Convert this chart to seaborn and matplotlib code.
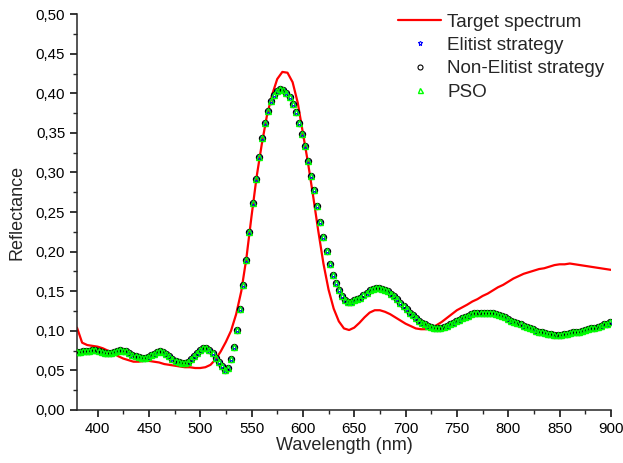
import numpy as np
import pandas as pd
import seaborn as sns
import matplotlib
matplotlib.use("Agg")
import matplotlib.pyplot as plt
from matplotlib.ticker import MultipleLocator, FuncFormatter

# 목표 스펙트럼 (5 nm 간격)
target_wl = list(range(380, 901, 5))
target_refl = [
    0.104, 0.085, 0.082, 0.081, 0.080, 0.078, 0.075, 0.072, 0.068, 0.065,
    0.063, 0.061, 0.061, 0.062, 0.062, 0.061, 0.060, 0.058, 0.057, 0.056,
    0.055, 0.054, 0.054, 0.053, 0.053, 0.054, 0.057, 0.064, 0.074, 0.086,
    0.100, 0.121, 0.150, 0.192, 0.245, 0.295, 0.336, 0.372, 0.398, 0.418,
    0.427, 0.426, 0.414, 0.388, 0.350, 0.312, 0.270, 0.226, 0.185, 0.152,
    0.128, 0.112, 0.103, 0.101, 0.104, 0.110, 0.117, 0.123, 0.126, 0.126,
    0.124, 0.121, 0.117, 0.113, 0.109, 0.106, 0.103, 0.102, 0.102, 0.103,
    0.107, 0.111, 0.116, 0.121, 0.126, 0.1295, 0.133, 0.137, 0.140, 0.144,
    0.147, 0.151, 0.155, 0.158, 0.162, 0.166, 0.169, 0.172, 0.174, 0.176,
    0.178, 0.179, 0.181, 0.183, 0.184, 0.184, 0.185, 0.184, 0.183, 0.182,
    0.181, 0.180, 0.179, 0.178, 0.177,
]

# 최적화 결과 (3 nm 간격)
fit_wl = list(range(380, 900, 3))
fit_refl = [
    0.073, 0.073, 0.074, 0.074, 0.075, 0.0755, 0.0755, 0.075, 0.073, 0.072,
    0.0715, 0.072, 0.073, 0.0745, 0.0755, 0.075, 0.074, 0.072, 0.070, 0.068,
    0.0665, 0.066, 0.066, 0.067, 0.069, 0.071, 0.073, 0.074, 0.0735, 0.071,
    0.068, 0.065, 0.062, 0.060, 0.059, 0.059, 0.061, 0.064, 0.068, 0.072,
    0.076, 0.078, 0.078, 0.076, 0.072, 0.066, 0.060, 0.055, 0.051, 0.053,
    0.064, 0.080, 0.101, 0.127, 0.158, 0.190, 0.225, 0.262, 0.292, 0.320,
    0.343, 0.362, 0.378, 0.390, 0.398, 0.403, 0.405, 0.404, 0.401, 0.395,
    0.387, 0.377, 0.363, 0.348, 0.333, 0.315, 0.296, 0.278, 0.258, 0.238,
    0.219, 0.201, 0.185, 0.171, 0.160, 0.151, 0.144, 0.139, 0.137, 0.137,
    0.139, 0.140, 0.142, 0.145, 0.148, 0.151, 0.153, 0.154, 0.154, 0.153,
    0.152, 0.150, 0.147, 0.144, 0.140, 0.135, 0.131, 0.127, 0.123, 0.120,
    0.116, 0.113, 0.110, 0.108, 0.106, 0.105, 0.104, 0.104, 0.104, 0.105,
    0.106, 0.108, 0.110, 0.112, 0.114, 0.116, 0.118, 0.119, 0.121, 0.122,
    0.123, 0.123, 0.123, 0.123, 0.123, 0.122, 0.121, 0.120, 0.119, 0.117,
    0.115, 0.113, 0.111, 0.110, 0.108, 0.106, 0.105, 0.103, 0.102, 0.100,
    0.099, 0.098, 0.097, 0.096, 0.096, 0.095, 0.095, 0.095, 0.096, 0.096,
    0.097, 0.098, 0.098, 0.099, 0.100, 0.101, 0.102, 0.103, 0.104, 0.105,
    0.106, 0.108, 0.109, 0.111,
]
elitist = fit_refl
non_elitist = fit_refl
pso = fit_refl

sns.set_style("ticks")
plt.rcParams["font.family"] = ["Liberation Sans", "DejaVu Sans"]

fig = plt.figure(figsize=(6.23, 4.63), dpi=100)
ax = fig.add_axes([0.1236, 0.1145, 0.857, 0.855])

sns.lineplot(x=target_wl, y=target_refl, color="red", linewidth=1.6,
             label="Target spectrum", ax=ax, zorder=1)
sns.lineplot(x=fit_wl, y=elitist, marker="*", linestyle="", color="blue",
             markersize=4.5, markeredgewidth=0.8, mfc="none", mec="blue",
             label="Elitist strategy", ax=ax, zorder=2)
sns.lineplot(x=fit_wl, y=non_elitist, marker="o", linestyle="", color="black",
             markersize=4.5, markeredgewidth=0.8, mfc="none", mec="black",
             label="Non-Elitist strategy", ax=ax, zorder=3)
sns.lineplot(x=fit_wl, y=pso, marker="^", linestyle="", color="#00ff00",
             markersize=4.5, markeredgewidth=1.0, mfc="none", mec="#00ff00",
             label="PSO", ax=ax, zorder=4)

ax.set_xlim(380, 900)
ax.set_ylim(0, 0.5)
ax.xaxis.set_major_locator(MultipleLocator(50))
ax.xaxis.set_minor_locator(MultipleLocator(25))
ax.yaxis.set_major_locator(MultipleLocator(0.05))
ax.yaxis.set_minor_locator(MultipleLocator(0.025))
ax.yaxis.set_major_formatter(FuncFormatter(lambda v, p: f"{v:.2f}".replace(".", ",")))

sns.despine(ax=ax)
for s in ["left", "bottom"]:
    ax.spines[s].set_linewidth(1.1)
ax.tick_params(which="major", direction="out", length=5, width=1.1, labelsize=10.8, colors="black")
ax.tick_params(which="minor", direction="out", length=3, width=1.0)

ax.set_xlabel("Wavelength (nm)", fontsize=13, labelpad=1)
ax.set_ylabel("Reflectance", fontsize=13, labelpad=7)

ax.legend(loc="upper right", bbox_to_anchor=(1.009, 1.03), frameon=False,
          fontsize=13.6, handlelength=2.3, labelspacing=0.32, handletextpad=0.3,
          borderaxespad=0.2, markerscale=0.8)

fig.savefig("out.png", dpi=100)
